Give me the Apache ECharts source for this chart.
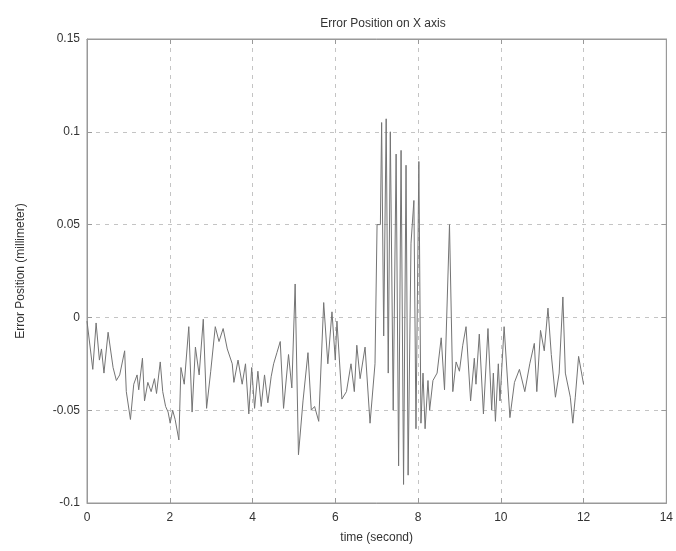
<!DOCTYPE html>
<html>
<head>
<meta charset="utf-8">
<script src="https://cdn.jsdelivr.net/npm/echarts@6/dist/echarts.min.js"></script>
<style>html,body{margin:0;padding:0;background:#fff;}#c{width:676px;height:551px;}</style>
</head>
<body>
<div id="c"></div>
<script>
const titleText = "Error Position on X axis";
const xName = "time (second)";
const yName = "Error Position (millimeter)";
const xTicks = [0, 2, 4, 6, 8, 10, 12, 14];
const yTicks = [-0.1, -0.05, 0, 0.05, 0.1, 0.15];

const timeSec = [
 0.00,0.14,0.22,0.30,0.35,0.41,0.51,0.63,0.71,0.79,0.91,0.95,1.05,1.13,1.21,1.25,1.34,1.39,1.47,1.55,
 1.63,1.68,1.77,1.83,1.90,1.96,2.01,2.07,2.13,2.22,2.27,2.35,2.46,2.54,2.62,2.71,2.81,2.89,2.99,3.10,
 3.19,3.29,3.39,3.51,3.55,3.65,3.75,3.83,3.91,3.98,4.05,4.13,4.21,4.29,4.37,4.45,4.51,4.59,4.67,4.75,
 4.87,4.95,5.03,5.11,5.22,5.34,5.42,5.50,5.60,5.72,5.82,5.92,6.00,6.04,6.16,6.27,6.38,6.46,6.52,6.60,
 6.72,6.84,6.96,7.01,7.09,7.12,7.17,7.23,7.28,7.33,7.40,7.47,7.53,7.59,7.65,7.71,7.76,7.83,7.90,7.95,
 8.02,8.07,8.12,8.17,8.24,8.28,8.36,8.46,8.56,8.64,8.76,8.84,8.92,9.00,9.08,9.16,9.27,9.36,9.40,9.48,
 9.58,9.69,9.78,9.82,9.87,9.94,9.98,10.08,10.22,10.33,10.45,10.58,10.70,10.81,10.87,10.96,11.05,11.14,11.22,11.32,
 11.41,11.50,11.56,11.68,11.74,11.80,11.88,12.00
];
const errorPos = [
 -0.002,-0.028,-0.003,-0.023,-0.017,-0.030,-0.008,-0.027,-0.034,-0.031,-0.018,-0.040,-0.055,-0.036,-0.031,-0.039,-0.022,-0.045,-0.035,-0.040,
 -0.033,-0.041,-0.024,-0.040,-0.048,-0.051,-0.057,-0.050,-0.055,-0.066,-0.027,-0.036,-0.005,-0.051,-0.016,-0.031,-0.001,-0.049,-0.029,-0.005,
 -0.013,-0.006,-0.017,-0.025,-0.035,-0.023,-0.036,-0.025,-0.052,-0.027,-0.049,-0.029,-0.048,-0.031,-0.046,-0.032,-0.025,-0.019,-0.013,-0.049,
 -0.020,-0.038,0.018,-0.074,-0.045,-0.019,-0.050,-0.048,-0.056,0.008,-0.025,0.003,-0.023,-0.002,-0.044,-0.040,-0.025,-0.040,-0.015,-0.033,
 -0.016,-0.057,-0.025,0.050,0.050,0.105,-0.010,0.107,-0.030,0.100,-0.050,0.088,-0.080,0.090,-0.090,0.082,-0.085,0.040,0.063,-0.060,
 0.084,-0.057,-0.030,-0.060,-0.034,-0.050,-0.034,-0.030,-0.011,-0.039,0.050,-0.040,-0.024,-0.029,-0.015,-0.005,-0.045,-0.022,-0.036,-0.009,
 -0.052,-0.006,-0.050,-0.030,-0.056,-0.025,-0.045,-0.005,-0.054,-0.035,-0.028,-0.040,-0.025,-0.014,-0.040,-0.007,-0.018,0.005,-0.020,-0.043,
 -0.030,0.011,-0.030,-0.043,-0.057,-0.043,-0.021,-0.036
];

const chart = echarts.init(document.getElementById('c'), null, {renderer:'canvas'});
const font = 'Liberation Sans, Arial, sans-serif';
const tickStyle = {show: true, inside: true, length: 5, lineStyle: {color: '#999'}};
const gridDash = {show: true, lineStyle: {type: [4, 5], color: '#c4c4c4', width: 1}};
chart.setOption({
  animation: false,
  backgroundColor: '#ffffff',
  title: {
    text: titleText, left: 378, top: 13, textAlign: 'center',
    textStyle: {fontFamily: font, fontSize: 12, fontWeight: 'normal', color: '#333'}
  },
  grid: {left: 87, right: 6, top: 39, bottom: 48, show: true, borderColor: '#999', borderWidth: 1, backgroundColor: 'transparent'},
  xAxis: [{
    type: 'value', min: xTicks[0], max: xTicks[xTicks.length-1], interval: 2,
    name: xName, nameLocation: 'middle', nameGap: 29,
    nameTextStyle: {fontFamily: font, fontSize: 12, color: '#333'},
    axisLine: {show: true, onZero: false, lineStyle: {color: '#999'}},
    axisTick: tickStyle,
    axisLabel: {fontFamily: font, fontSize: 12, color: '#333', margin: 9},
    splitLine: gridDash
  }, {
    type: 'value', position: 'top', min: xTicks[0], max: xTicks[xTicks.length-1], interval: 2,
    axisLine: {show: true, onZero: false, lineStyle: {color: '#999'}},
    axisTick: tickStyle, axisLabel: {show: false}, splitLine: {show: false}
  }],
  yAxis: [{
    type: 'value', min: yTicks[0], max: yTicks[yTicks.length-1], interval: 0.05,
    name: yName, nameLocation: 'middle', nameGap: 60, nameRotate: 90,
    nameTextStyle: {fontFamily: font, fontSize: 12, color: '#333'},
    axisLine: {show: true, onZero: false, lineStyle: {color: '#999'}},
    axisTick: tickStyle,
    axisLabel: {fontFamily: font, fontSize: 12, color: '#333', margin: 7,
      formatter: v => String(Math.round(v*100)/100)},
    splitLine: gridDash
  }, {
    type: 'value', position: 'right', min: yTicks[0], max: yTicks[yTicks.length-1], interval: 0.05,
    axisLine: {show: true, onZero: false, lineStyle: {color: '#999'}},
    axisTick: tickStyle, axisLabel: {show: false}, splitLine: {show: false}
  }],
  series: [{
    type: 'line',
    xAxisIndex: 0, yAxisIndex: 0,
    data: timeSec.map((t, i) => [t, errorPos[i]]),
    showSymbol: false, symbol: 'none',
    lineStyle: {color: '#747474', width: 1},
    silent: true
  }]
});
</script>
</body>
</html>
